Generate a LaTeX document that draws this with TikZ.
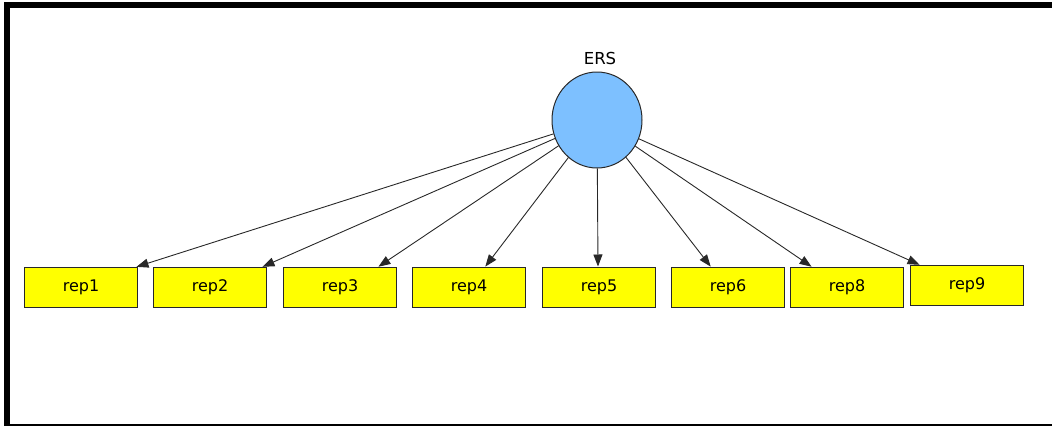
\documentclass[tikz,border=0pt]{standalone}
\usepackage{fontspec}
\setmainfont{DejaVu Sans}
\usetikzlibrary{shapes.geometric,arrows.meta}
\definecolor{latent}{RGB}{125,192,255}
\definecolor{obsfill}{RGB}{255,255,0}
\definecolor{edgegray}{RGB}{40,40,40}
\tikzset{
  obsbox/.style={draw=edgegray,line width=1pt,fill=obsfill,minimum width=113pt,minimum height=40pt,inner sep=0pt,font=\fontsize{16}{18}\selectfont,anchor=north west},
  latentnode/.style={ellipse,draw=edgegray,line width=1pt,fill=latent,minimum width=90pt,minimum height=96pt,inner sep=0pt},
  loading/.style={draw=edgegray,line width=0.9pt,-{Triangle[length=12pt,width=9pt]},shorten >=0.5pt}
}
\begin{document}
\begin{tikzpicture}[x=1pt,y=-1pt]
\useasboundingbox (0,0) rectangle (1052,426);
% frame
\fill[black] (4,2) rectangle (1052,8);
\fill[black] (4,2) rectangle (10,426);
\fill[black] (4,423.5) rectangle (1052,426);
% latent
\node[latentnode] (ers) at (597,120) {};
\node[font=\fontsize{16.5}{18}\selectfont] (erslabel) at (600,58) {ERS};
% observed
\node[obsbox] (rep1) at (24,267) {rep1};
\node[obsbox] (rep2) at (153,267) {rep2};
\node[obsbox] (rep3) at (283,267) {rep3};
\node[obsbox] (rep4) at (412,267) {rep4};
\node[obsbox] (rep5) at (542,267) {rep5};
\node[obsbox] (rep6) at (671,267) {rep6};
\node[obsbox] (rep8) at (790,267) {rep8};
\node[obsbox] (rep9) at (910,265) {rep9};
% loadings
\draw[loading] (ers) -- ([xshift=112pt]rep1.north west);
\draw[loading] (ers) -- ([xshift=109pt]rep2.north west);
\draw[loading] (ers) -- ([xshift=95pt]rep3.north west);
\draw[loading] (ers) -- ([xshift=73pt]rep4.north west);
\draw[loading] (ers) -- ([xshift=56pt]rep5.north west);
\draw[loading] (ers) -- ([xshift=40pt]rep6.north west);
\draw[loading] (ers) -- ([xshift=22pt]rep8.north west);
\draw[loading] (ers) -- ([xshift=10pt]rep9.north west);
\end{tikzpicture}
\end{document}
